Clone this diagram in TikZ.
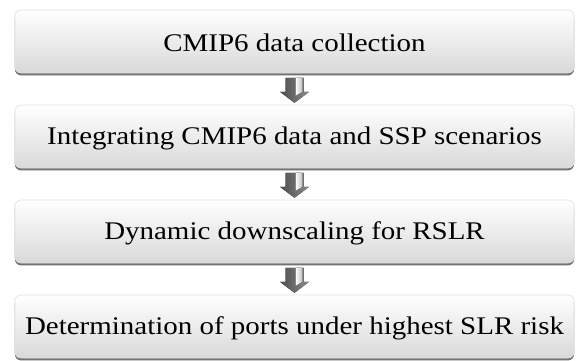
\documentclass[tikz,border=0pt]{standalone}
\usepackage{fontspec}
\setmainfont{Liberation Serif}[FakeStretch=1.14]
\usetikzlibrary{shadows,calc}
\begin{document}
\begin{tikzpicture}[x=1bp,y=-1bp,
  stepbox/.style={minimum width=559bp, minimum height=63bp, inner sep=0pt,
    rounded corners=6bp, top color=white, bottom color=black!15,
    draw=black!12, line width=0.6bp,
    font=\fontsize{25.5}{28}\selectfont, text=black,
    preaction={fill=black!55, transform canvas={yshift=-2.4bp},
      drop shadow={shadow xshift=0bp, shadow yshift=-2bp, opacity=0.25, fill=black}}},
  steplabel/.style={font=\fontsize{25.5}{28}\selectfont, text=black, inner sep=0pt}]
\useasboundingbox (0,0) rectangle (576,360);
\fill[white] (0,0) rectangle (576,360);

\node[stepbox] (b1) at (294.5,41.5) {};
\node[stepbox] (b2) at (294.5,136.5) {};
\node[stepbox] (b3) at (294.5,231.5) {};
\node[stepbox] (b4) at (294.5,326.5) {};

\node[steplabel] (l1) at ($(b1.center)+(0,1.5)$) {CMIP6 data collection};
\node[steplabel] (l2) at ($(b2.center)+(0,1.5)$) {Integrating CMIP6 data and SSP scenarios};
\node[steplabel] (l3) at ($(b3.center)+(0,1.5)$) {Dynamic downscaling for RSLR};
\node[steplabel] (l4) at ($(b4.center)+(0,1.5)$) {Determination of ports under highest SLR risk};

% small block arrows between consecutive steps
\foreach \a/\b in {b1/b2, b2/b3, b3/b4}{
  \coordinate (t) at ($(\a.south)+(0,4.5)$);
  \fill[left color=black!70, right color=black!45]
    ($(t)+(-9,0)$) -- ($(t)+(9,0)$) -- ($(t)+(9,14)$) -- ($(t)+(14.5,14)$)
    -- ($(t)+(0,25)$) -- ($(t)+(-14.5,14)$) -- ($(t)+(-9,14)$) -- cycle;
  \fill[left color=white, right color=black!25]
    ($(t)+(1,0)$) -- ($(t)+(8,0)$) -- ($(t)+(8,14)$) -- ($(t)+(1,18)$) -- cycle;
}
\end{tikzpicture}
\end{document}
